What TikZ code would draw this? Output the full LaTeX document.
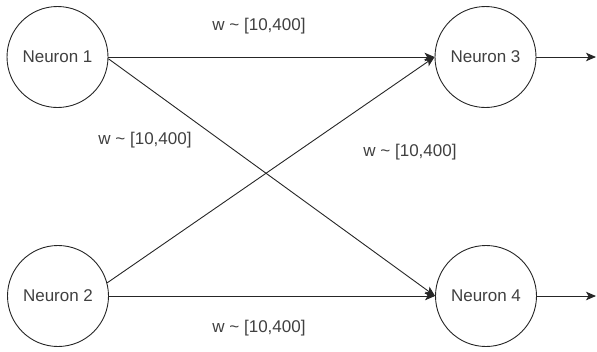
\documentclass[tikz,border=0pt]{standalone}
\usepackage{fontspec}
\setmainfont{Liberation Sans}
\usetikzlibrary{arrows.meta}
\begin{document}
\begin{tikzpicture}[x=1pt,y=-1pt,
  neuron/.style={draw=black!85, line width=0.9pt, circle, minimum size=101pt, inner sep=0pt, font=\fontsize{17}{20}\selectfont, text=black!75},
  conn/.style={draw=black!85, line width=0.9pt, -{Stealth[length=10pt,width=8.5pt,inset=2.5pt]}},
  wlabel/.style={font=\fontsize{17}{20}\selectfont, text=black!75, inner sep=0pt}]
\useasboundingbox (0,0) rectangle (597,351);
\node[neuron] (n1) at (57.5,57) {Neuron 1};
\node[neuron] (n2) at (58,296) {Neuron 2};
\node[neuron] (n3) at (485.5,57) {Neuron 3};
\node[neuron] (n4) at (486,296) {Neuron 4};
\coordinate (o3) at (596,57);
\coordinate (o4) at (596,296);
\draw[conn] (n1.east) -- (n3.west);
\draw[conn] (n1.-2) -- (n4.west);
\draw[conn] (n2.15) -- (n3.west);
\draw[conn] (n2.east) -- (n4.west);
\draw[conn] (n3.east) -- (o3);
\draw[conn] (n4.east) -- (o4);
\node[wlabel] (l1) at (259,26) {w \textasciitilde{} [10,400]};
\node[wlabel] (l2) at (145,140) {w \textasciitilde{} [10,400]};
\node[wlabel] (l3) at (410,152.5) {w \textasciitilde{} [10,400]};
\node[wlabel] (l4) at (259,328) {w \textasciitilde{} [10,400]};
\end{tikzpicture}
\end{document}
